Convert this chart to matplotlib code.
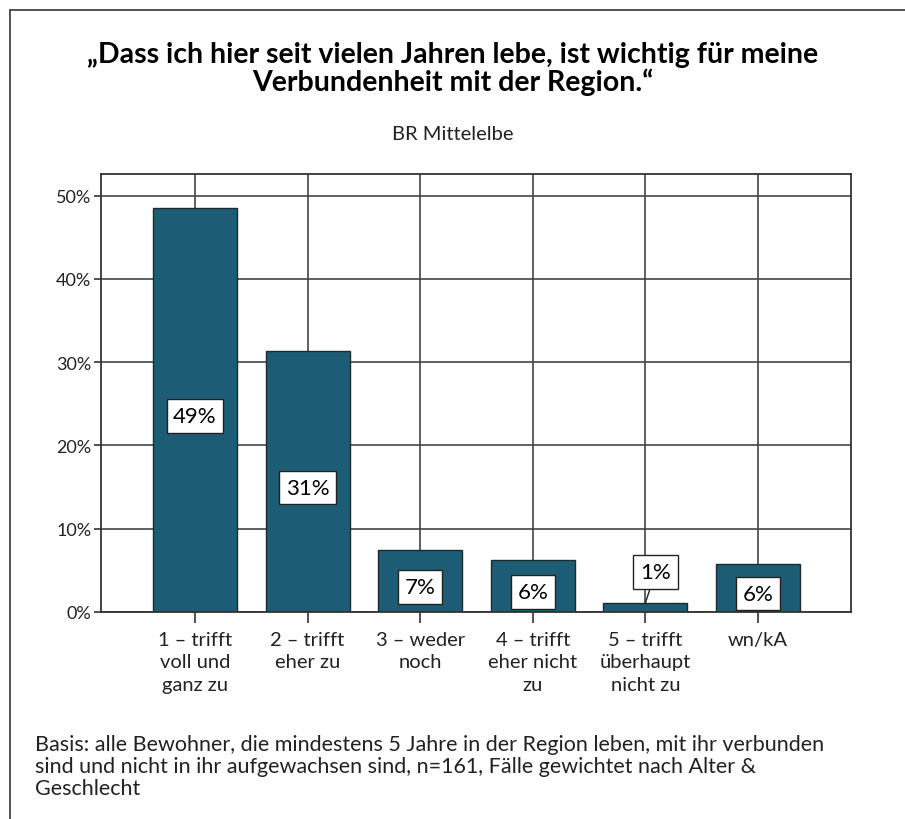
import matplotlib.pyplot as plt
from matplotlib.patches import Rectangle

plt.rcParams['font.family'] = ['Lato', 'DejaVu Sans']

categories = ['1 – trifft\nvoll und\nganz zu', '2 – trifft\neher zu', '3 – weder\nnoch',
              '4 – trifft\neher nicht\nzu', '5 – trifft\nüberhaupt\nnicht zu', 'wn/kA']
values = [48.5, 31.3, 7.4, 6.2, 1.1, 5.8]
labels = ['49%', '31%', '7%', '6%', '1%', '6%']
yticks = [0, 10, 20, 30, 40, 50]
ytick_labels = ['0%', '10%', '20%', '30%', '40%', '50%']

title = '„Dass ich hier seit vielen Jahren lebe, ist wichtig für meine\nVerbundenheit mit der Region.“'
subtitle = 'BR Mittelelbe'
footer = ('Basis: alle Bewohner, die mindestens 5 Jahre in der Region leben, mit ihr verbunden\n'
          'sind und nicht in ihr aufgewachsen sind, n=161, Fälle gewichtet nach Alter &\n'
          'Geschlecht')

bar_color = '#1c5d75'

fig = plt.figure(figsize=(9.05, 8.2), dpi=100)
# outer frame
fig.patches.append(Rectangle((10 / 905, -0.05), 1.2, 1 - 11 / 820 + 0.05, transform=fig.transFigure,
                             fill=False, edgecolor='#333333', linewidth=1.2))

ax = fig.add_axes([101 / 905, 1 - 613 / 820, 750 / 905, 438 / 820])
x = list(range(len(categories)))
ax.bar(x, values, width=0.746, color=bar_color, edgecolor='#1a2a30', linewidth=1.0, zorder=3)

ax.set_xlim(-0.835, 5.826)
ax.set_ylim(0, 52.6)
ax.set_yticks(yticks)
ax.set_yticklabels(ytick_labels, fontsize=13, color='#222222')
ax.set_xticks(x)
ax.set_xticklabels(categories, fontsize=14.5, color='#222222', linespacing=1.36)
ax.tick_params(axis='y', length=5, width=1.2, color='#333333', pad=2)
ax.tick_params(axis='x', length=8, width=1.2, color='#333333', pad=6)
ax.grid(True, color='#444444', linewidth=1.2, zorder=0)
ax.set_axisbelow(True)
for s in ax.spines.values():
    s.set_color('#333333')
    s.set_linewidth(1.3)
    s.set_zorder(4)

box = dict(boxstyle='square,pad=0.3', facecolor='white', edgecolor='#222222', linewidth=1.0)
for i, (v, lab) in enumerate(zip(values, labels)):
    if v < 3:
        ax.annotate(lab, xy=(i, v), xytext=(i + 0.09, 4.8), ha='center', va='center',
                    fontsize=16, color='black', bbox=box, zorder=5,
                    arrowprops=dict(arrowstyle='-', color='#222222', linewidth=1.0,
                                    shrinkA=0, shrinkB=0))
    else:
        ax.text(i, v / 2 - 0.7, lab, ha='center', va='center', fontsize=16, color='black',
                bbox=box, zorder=5)

fig.text(0.5, 1 - 69 / 820, title, ha='center', va='center', fontsize=20.5, fontweight='bold',
         linespacing=1.0)
fig.text(0.5, 1 - 135 / 820, subtitle, ha='center', va='center', fontsize=14.5, color='#222222')
fig.text(35 / 905, 1 - 767 / 820, footer, ha='left', va='center', fontsize=15.5, color='#222222',
         linespacing=1.15)

fig.savefig('out.png', dpi=100)
